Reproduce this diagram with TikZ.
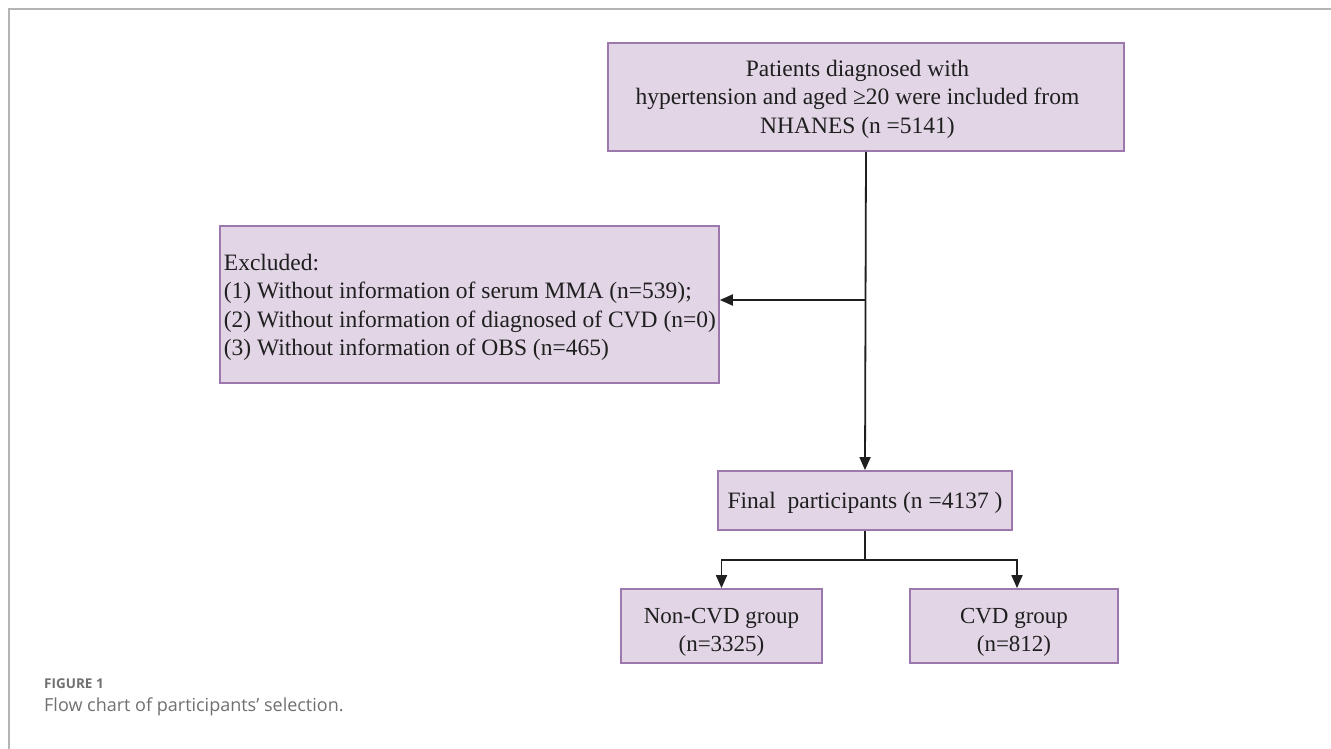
\documentclass[tikz,border=0pt]{standalone}
\usepackage{fontspec}
\setmainfont{Liberation Serif}
\newfontfamily\capfont{Open Sans}
\usetikzlibrary{arrows.meta}
\definecolor{boxfill}{HTML}{E2D6E6}
\definecolor{boxline}{HTML}{9C78AC}
\definecolor{framegray}{HTML}{B4B4B4}
\definecolor{capgray}{HTML}{707070}
\newcommand\dnstrut[1]{\rule{0pt}{#1}}
\tikzset{
  flowbox/.style={draw=boxline, fill=boxfill, line width=1.8pt, inner sep=0pt, font=\fontsize{23}{28.5}\selectfont, text=black!88},
  conn/.style={line width=1.8pt, black!88},
  arr/.style={conn, -{Triangle[length=13pt,width=11pt]}}
}
\begin{document}
\begin{tikzpicture}[x=1pt,y=-1pt]
\useasboundingbox (0,0) rectangle (1331,749);
\fill[white] (0,0) rectangle (1331,749);
\draw[framegray, line width=1.5pt] (9,749) -- (9,9) -- (1331,9);
% top box
\node[flowbox, minimum width=516pt, minimum height=108pt, font=\fontsize{23.5}{28.5}\selectfont] (top) at (866,97)
  {\begin{tabular}{@{}c@{\hspace{17pt}}}\dnstrut{24pt}Patients diagnosed with\\hypertension and aged ≥20 were included from\\NHANES (n =5141)\end{tabular}};
% excluded box
\node[flowbox, minimum width=499pt, minimum height=157pt, anchor=west, font=\fontsize{23.5}{28.5}\selectfont] (exc) at (219,304.5)
  {\makebox[495pt][l]{\begin{tabular}{@{\hspace{2pt}}l@{}}\dnstrut{26pt}Excluded:\\(1) Without information of serum MMA (n=539);\\(2) Without information of diagnosed of CVD (n=0)\\(3) Without information of OBS (n=465)\end{tabular}}};
% final
\node[flowbox, minimum width=294pt, minimum height=59pt, font=\fontsize{23.5}{28}\selectfont] (fin) at (865,500.5) {\dnstrut{20pt}Final\ \ participants (n =4137 )};
% groups
\node[flowbox, minimum width=201pt, minimum height=74pt, align=center] (non) at (721.5,626) {\dnstrut{28pt}Non-CVD group\\(n=3325)};
\node[flowbox, minimum width=208pt, minimum height=74pt, align=center] (cvd) at (1014,626) {\dnstrut{28pt}CVD group\\(n=812)};
% connectors
\coordinate (br) at (865,300);
\coordinate (sp) at (865,560);
\draw[arr] (top.south) -- (fin.north);
\draw[arr] (br) -- (exc.east |- br);
\draw[conn] (fin.south) -- (sp);
\draw[arr] (sp) -| ([xshift=0pt]non.north);
\draw[arr] (sp) -| ([xshift=3pt]cvd.north);
% caption
\node[anchor=west, inner sep=0pt, font=\capfont\bfseries\fontsize{13.5}{16}\selectfont, text=capgray] (figlab) at (44,684) {FIGURE 1};
\node[anchor=west, inner sep=0pt, font=\capfont\fontsize{18}{22}\selectfont, text=capgray] (cap) at (44,707) {Flow chart of participants’ selection.};
\end{tikzpicture}
\end{document}
